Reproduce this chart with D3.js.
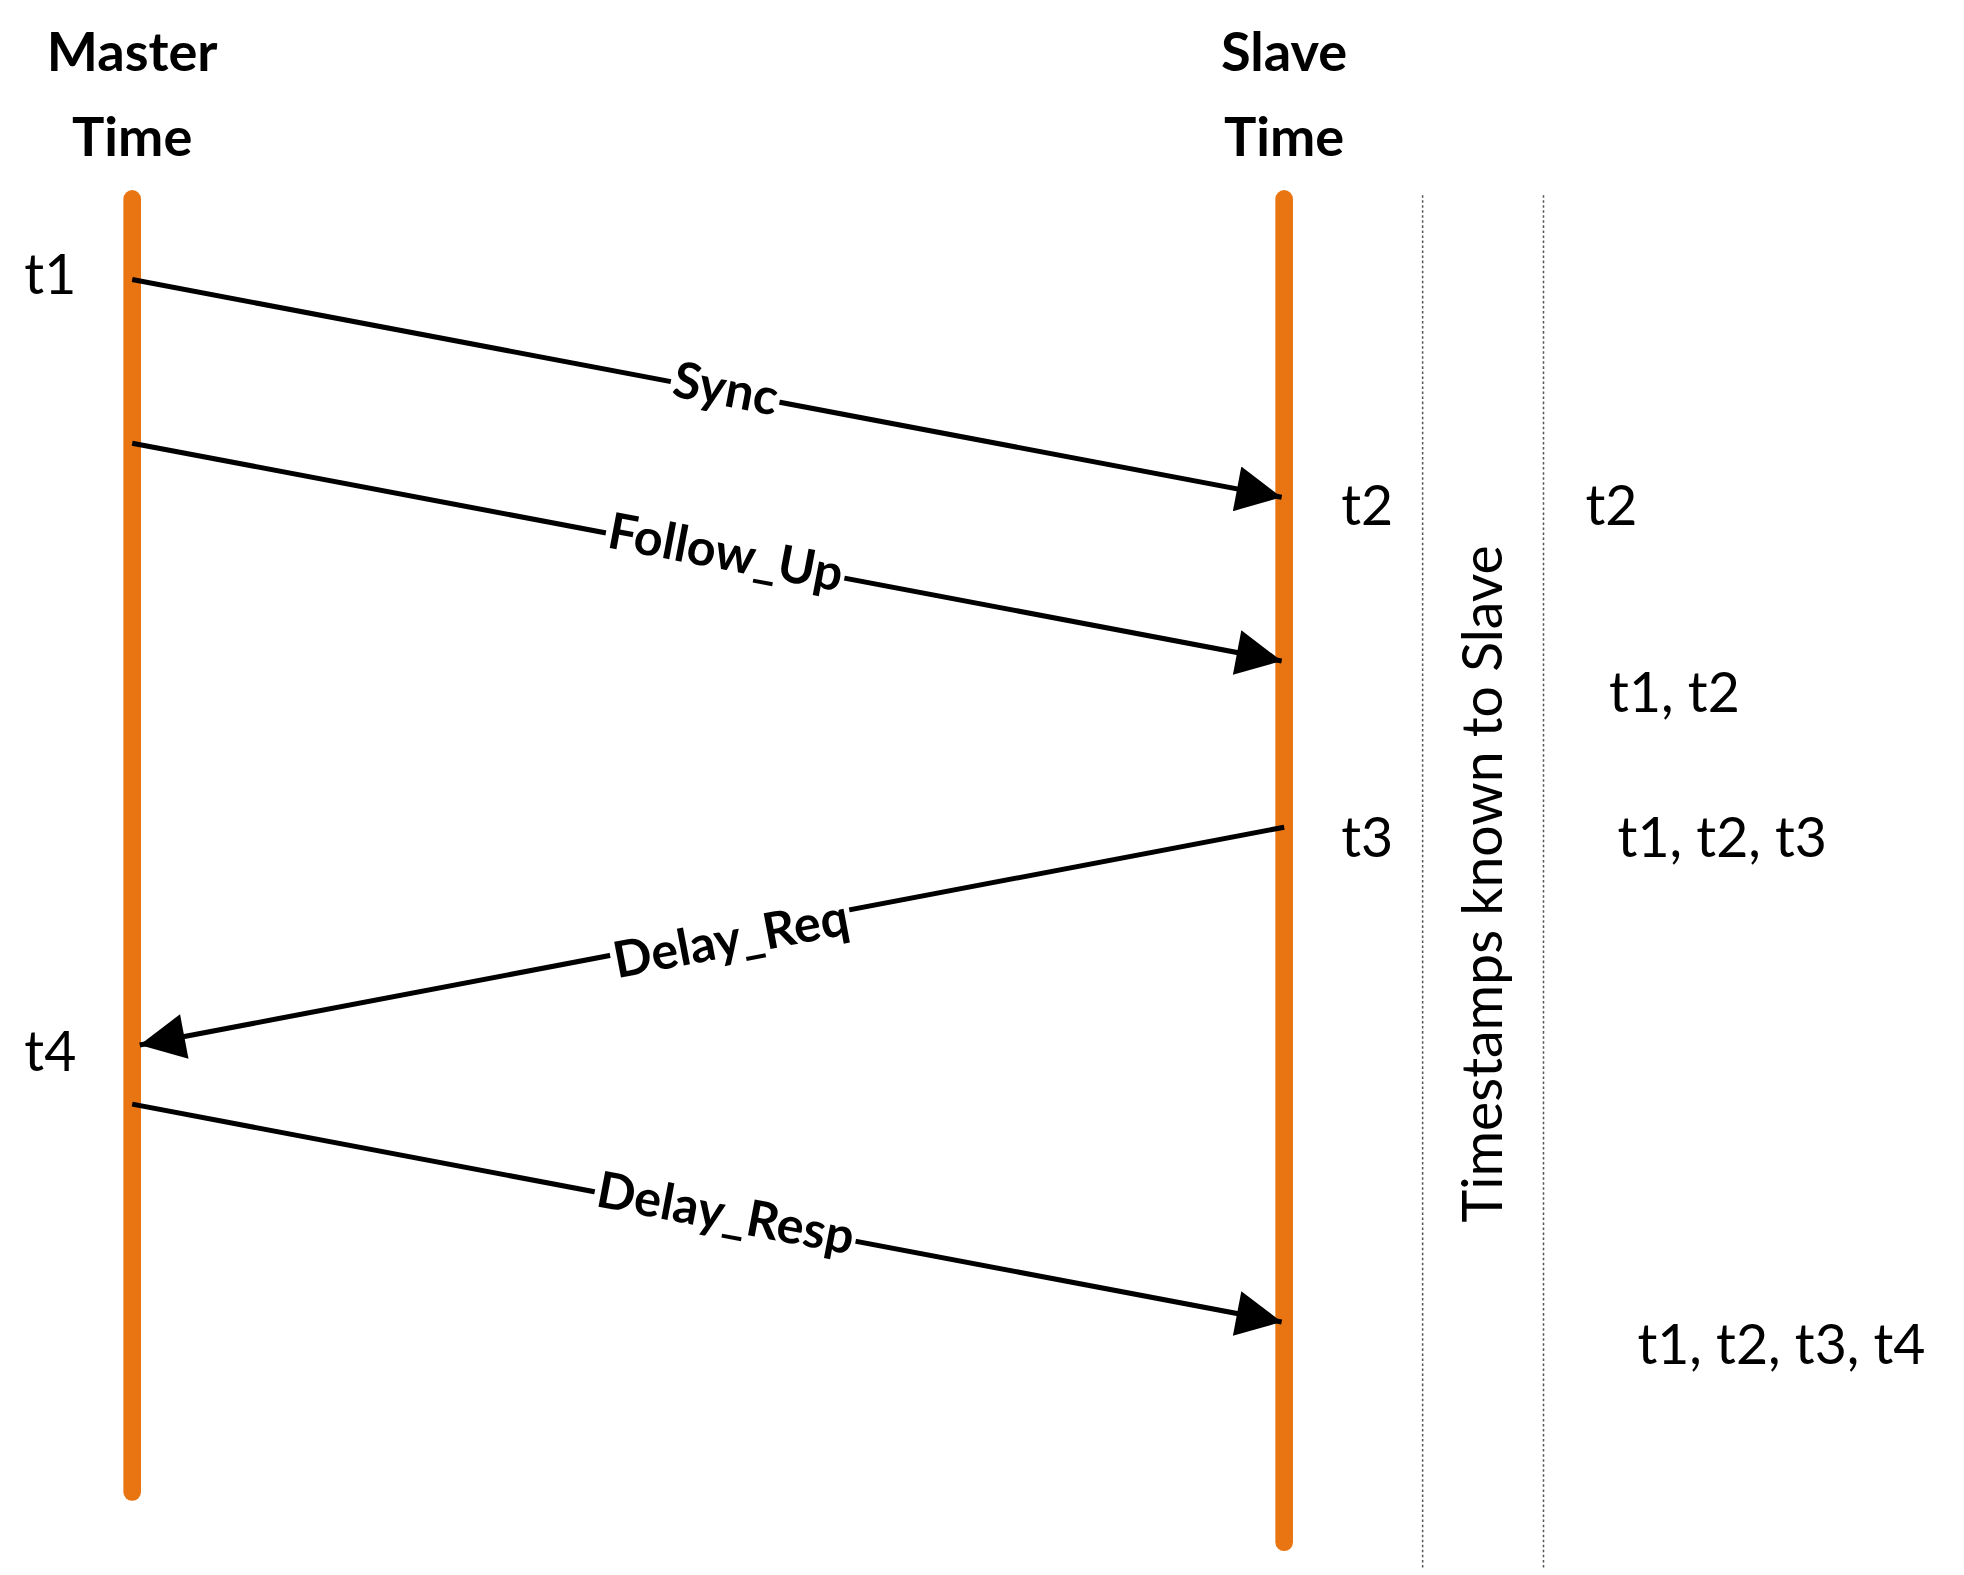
<!DOCTYPE html>
<html>
<head>
<meta charset="utf-8">
<script src="https://cdn.jsdelivr.net/npm/d3@7"></script>
<style>
  body { margin: 0; background: #fff; }
</style>
</head>
<body>
<svg id="chart"></svg>
<script>
// lanes and messages (y in diagram units)
const lanes = ["Master", "Slave"];
const laneTitles = [["Master", "Time"], ["Slave", "Time"]];
const messages = ["Sync", "Follow_Up", "Delay_Req", "Delay_Resp"];
const msgFrom = ["Master", "Master", "Slave", "Master"];
const msgStartY = [222, 352, 657, 877];
const msgEndY = [395, 525, 830, 1050];
const stampLabels = ["t1", "t2", "t3", "t4"];
const stampLane = ["Master", "Slave", "Slave", "Master"];
const stampY = [218, 402, 665, 835];
const knownLabels = ["t2", "t1, t2", "t1, t2, t3", "t1, t2, t3, t4"];
const knownY = [402, 550, 665, 1068];
const knownX = [1280, 1330, 1368, 1415];

const width = 1560, height = 1251;
const svg = d3.select("#chart")
    .attr("width", 1964)
    .attr("height", 1575)
    .attr("viewBox", [0, 0, width, height])
    .style("font-family", "Lato, 'Open Sans', sans-serif");

const x = d3.scaleOrdinal().domain(lanes).range([105, 1020]);
const y = d3.scaleLinear().domain([0, 1251]).range([0, 1251]);
const laneEnd = { Master: 1185, Slave: 1225 };

svg.append("defs").append("marker")
    .attr("id", "arrow")
    .attr("viewBox", "0 0 10 10")
    .attr("refX", 10).attr("refY", 5)
    .attr("markerWidth", 11).attr("markerHeight", 9)
    .attr("markerUnits", "strokeWidth")
    .attr("orient", "auto")
  .append("path")
    .attr("d", "M0,0L10,5L0,10Z")
    .attr("fill", "#000");

// dotted separators
svg.selectAll("line.sep")
  .data([1130, 1226])
  .join("line")
    .attr("x1", d => d).attr("x2", d => d)
    .attr("y1", y(155)).attr("y2", y(1245))
    .attr("stroke", "#555")
    .attr("stroke-width", 1.2)
    .attr("stroke-dasharray", "2,2");

// time lines
svg.selectAll("line.lane")
  .data(lanes)
  .join("line")
    .attr("x1", d => x(d)).attr("x2", d => x(d))
    .attr("y1", y(158)).attr("y2", d => y(laneEnd[d]))
    .attr("stroke", "#e87511")
    .attr("stroke-width", 14)
    .attr("stroke-linecap", "round");

// lane titles
laneTitles.forEach((t, i) => {
  svg.append("text")
      .attr("x", x(lanes[i]))
      .attr("text-anchor", "middle")
      .style("font-weight", "bold")
      .style("font-size", "43px")
    .selectAll("tspan")
    .data(t)
    .join("tspan")
      .attr("x", x(lanes[i]))
      .attr("y", (d, j) => j === 0 ? 56 : 124)
      .text(d => d);
});

// messages
messages.forEach((m, i) => {
  const other = msgFrom[i] === "Master" ? "Slave" : "Master";
  const x1 = x(msgFrom[i]), x2 = x(other) + (other === "Master" ? 6 : -2);
  const y1 = y(msgStartY[i]), y2 = y(msgEndY[i]);
  svg.append("line")
      .attr("x1", x1).attr("y1", y1)
      .attr("x2", x2).attr("y2", y2)
      .attr("stroke", "#000")
      .attr("stroke-width", 4)
      .attr("marker-end", "url(#arrow)");
  const mx = (x1 + x2) / 2 + 15, my = (y1 + y2) / 2 + (i === 2 ? 2 : 0);
  const ang = Math.atan2(msgEndY[i] - msgStartY[i], Math.abs(x2 - x1)) * 180 / Math.PI;
  const a = msgFrom[i] === "Master" ? ang : -ang;
  const txt = svg.append("text")
      .attr("transform", `translate(${mx},${my}) rotate(${a})`)
      .attr("text-anchor", "middle")
      .attr("dy", "0.35em")
      .style("font-weight", "bold")
      .style("font-size", "40px")
      .text(m);
  // white gap behind the label
  const bb = txt.node().getBBox();
  svg.insert("rect", () => txt.node())
      .attr("transform", `translate(${mx},${my}) rotate(${a})`)
      .attr("x", bb.x - 2).attr("y", -12)
      .attr("width", bb.width + 4).attr("height", 24)
      .attr("fill", "#fff");
});

// timestamps on the lanes
svg.selectAll("text.stamp")
  .data(stampLabels)
  .join("text")
    .attr("x", (d, i) => stampLane[i] === "Master" ? 40 : 1086)
    .attr("y", (d, i) => y(stampY[i]))
    .attr("dy", "0.35em")
    .attr("text-anchor", "middle")
    .style("font-size", "44px")
    .text(d => d);

// known timestamps column
svg.selectAll("text.known")
  .data(knownLabels)
  .join("text")
    .attr("x", (d, i) => knownX[i])
    .attr("y", (d, i) => y(knownY[i]))
    .attr("dy", "0.35em")
    .attr("text-anchor", "middle")
    .style("font-size", "44px")
    .text(d => d);

svg.append("text")
    .attr("transform", `translate(1178,${y(702)}) rotate(-90)`)
    .attr("text-anchor", "middle")
    .attr("dy", "0.35em")
    .style("font-size", "44px")
    .text("Timestamps known to Slave");
</script>
</body>
</html>
